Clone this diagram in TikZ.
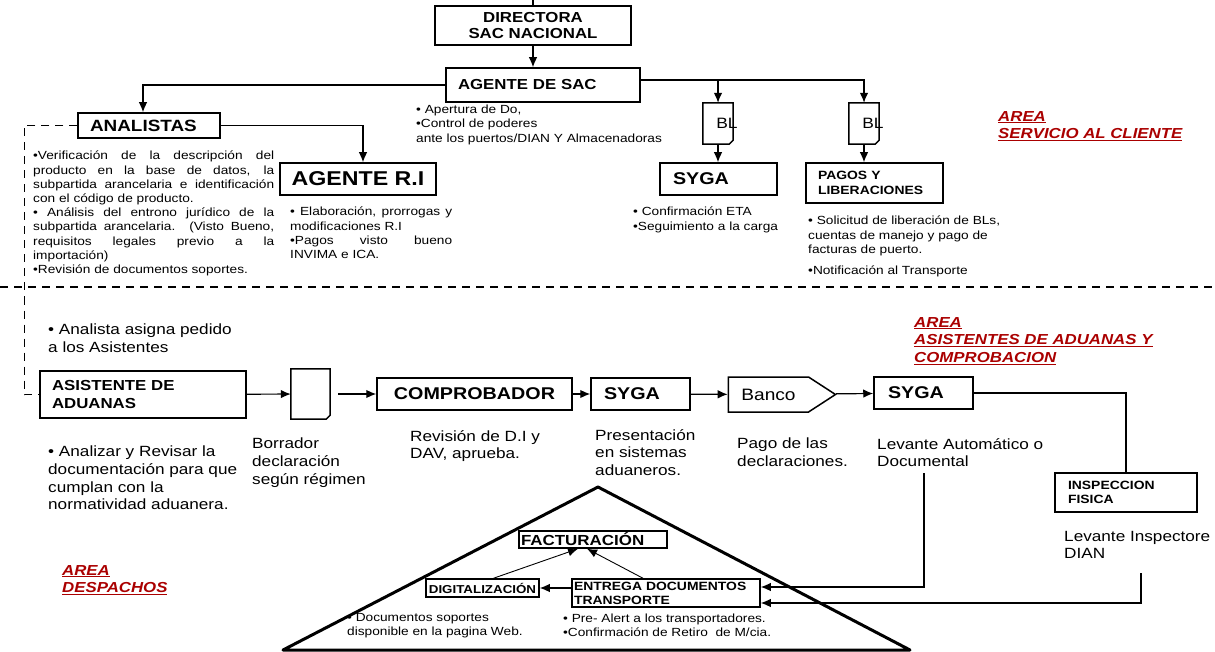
\documentclass[tikz,border=0pt]{standalone}
\usepackage{fontspec}
\setmainfont{Liberation Sans}[FakeStretch=1.16]
\usetikzlibrary{arrows.meta}
\usetikzlibrary{shapes.symbols}
\definecolor{areared}{RGB}{170,0,0}
\setlength{\parindent}{0pt}
\newcommand{\fnota}{\fontsize{11.8}{14.2}\selectfont}
\newcommand{\fdesc}{\fontsize{14.8}{17.6}\selectfont}
\newcommand{\farea}{\fontsize{14.5}{17.5}\selectfont\bfseries\itshape}
\newcommand{\bsz}[2]{\fontsize{#1}{#2}\selectfont\bfseries}
\tikzset{box/.style = {draw, line width=1.5pt, inner sep=0pt},
         conn/.style = {line width=1.2pt},
         note/.style = {anchor=north west, inner sep=0pt, font=\fnota, align=left},
         desc/.style = {anchor=north west, inner sep=0pt, font=\fdesc, align=left},
         area/.style = {anchor=north west, inner sep=0pt, font=\farea, text=areared, align=left},
         docnode/.style = {minimum width=30pt, minimum height=41pt, inner sep=0pt},
         sepline/.style = {line width=1.2pt, dash pattern=on 8pt off 6pt}}

\begin{document}
\begin{tikzpicture}[x=1pt, y=-1pt, >={Latex[length=10pt,width=8.5pt]}]
  \useasboundingbox (0,0) rectangle (1215,652);

  % area servicio al cliente
  \node[box, minimum width=196pt, minimum height=39pt, align=center, font=\bsz{14.5}{16}] (directora) at (533,25.5) {DIRECTORA\\SAC NACIONAL};
  \node[box, text width=170pt, inner xsep=12pt, minimum height=34pt, font=\bsz{14.5}{16}] (agentesac) at (543,85) {AGENTE DE SAC};
  \node[box, text width=118pt, inner xsep=12pt, minimum height=25pt, font=\bsz{16.3}{18}] (analistas) at (149,125.5) {ANALISTAS};
  \node[box, minimum width=156pt, minimum height=32pt, font=\bsz{20}{22}] (agenteri) at (358,179) {AGENTE R.I};
  \node[docnode, label={[xshift=9pt, font=\fontsize{15}{16}\selectfont]center:BL}] (bl1) at (718,123.5) {};
  \node[docnode, label={[xshift=9pt, font=\fontsize{15}{16}\selectfont]center:BL}] (bl2) at (864,123.5) {};
  \node[box, text width=91pt, inner xsep=13pt, minimum height=32pt, font=\bsz{17}{19}] (syga) at (718.5,179) {SYGA};
  \node[box, text width=113pt, inner xsep=12pt, minimum height=40pt, font=\bsz{12}{15}] (pagos) at (874.5,183) {PAGOS Y\\LIBERACIONES};

  \node[note, text width=241pt, align=justify] (analistastxt) at (33,151) {•Verificación de la descripción del\linebreak producto en la base de datos, la\linebreak subpartida arancelaria e identificación\linebreak con el código de producto.\\ • Análisis del entrono jurídico de la\linebreak subpartida arancelaria. (Visto Bueno,\linebreak requisitos legales previo a la\linebreak importación)\\ •Revisión de documentos soportes.};
  \node[note, text width=162pt, align=justify] (agenteritxt) at (290,207) {• Elaboración, prorrogas y\linebreak modificaciones R.I\\ •Pagos visto bueno\linebreak INVIMA e ICA.};
  \node[note] (agentesactxt) at (416,105) {• Apertura de Do,\\•Control de poderes\\ante los puertos/DIAN Y Almacenadoras};
  \node[note] (sygatxt) at (633,207) {• Confirmación ETA\\•Seguimiento a la carga};
  \node[note] (pagostxt) at (808,216) {• Solicitud de liberación de BLs,\\cuentas de manejo y pago de\\facturas de puerto.\\[7pt]•Notificación al Transporte};
  \node[area] (areasac) at (998,111) {\underline{AREA}\\\underline{SERVICIO AL CLIENTE}};

  \coordinate (arriba) at (533,0);
  \draw[conn] (directora.north) -- (arriba);
  \draw[conn,->] (directora.south) -- (directora.south |- agentesac.north);
  \draw[conn,->] (agentesac.west) -| ([xshift=-6pt]analistas.north);
  \coordinate (sacr) at ([yshift=5pt]agentesac.east);
  \draw[conn,->] (sacr) -| (bl2.north);
  \draw[conn,->] (sacr -| bl1.north) -- (bl1.north);
  \draw[conn,->] (bl1.south) -- (bl1.south |- syga.north);
  \draw[conn,->] (bl2.south) -- (bl2.south |- pagos.north);
  \draw[conn,->] (analistas.east) -| ([xshift=5pt]agenteri.north);

  \draw[sepline] (0,287) -- (1215,287);

  % area asistentes de aduanas y comprobacion
  \node[box, text width=182pt, inner xsep=12pt, minimum height=47pt, font=\bsz{14.5}{18}] (asistente) at (143,394.5) {ASISTENTE DE\\ADUANAS};
  \node[docnode, minimum width=39pt, minimum height=50pt] (borrador) at (310.5,394) {};
  \node[box, minimum width=195pt, minimum height=32pt, font=\bsz{17}{19}] (comprobador) at (474.5,394) {COMPROBADOR};
  \node[box, text width=73pt, inner xsep=13pt, minimum height=32pt, font=\bsz{17}{19}] (sygapres) at (640.5,394) {SYGA};
  \node[draw, line width=1.5pt, shape=signal, signal to=east, signal pointer angle=66, minimum width=107pt, minimum height=35pt, inner sep=0pt, font=\fontsize{16.5}{18}\selectfont] (banco) at (768.5,394.5) {Banco};
  \node[box, text width=71pt, inner xsep=14pt, minimum height=32pt, font=\bsz{17}{19}] (sygalev) at (923.5,393) {SYGA};
  \node[box, text width=116pt, inner xsep=13pt, minimum height=39pt, font=\bsz{12}{14}] (inspeccion) at (1126,492.5) {INSPECCION\\FISICA};

  \foreach \d in {bl1,bl2,borrador}
    \draw[line width=1.5pt] (\d.north west) -- (\d.north east) -- ([yshift=4pt]\d.south east) -- ([xshift=-4pt]\d.south east) -- (\d.south west) -- cycle;

  \node[desc] (asignatxt) at (48,324) {• Analista asigna pedido\\a los Asistentes};
  \node[desc] (analizartxt) at (48,446) {• Analizar y Revisar la\\documentación para que\\cumplan con la\\normatividad aduanera.};
  \node[desc, font=\fontsize{14.8}{18}\selectfont] (borradortxt) at (252,438) {Borrador\\declaración\\según régimen};
  \node[desc] (revisiontxt) at (410,430) {Revisión de D.I y\\DAV, aprueba.};
  \node[desc] (presentaciontxt) at (595,429) {Presentación\\en sistemas\\aduaneros.};
  \node[desc] (pagotxt) at (737,438) {Pago de las\\declaraciones.};
  \node[desc] (levautotxt) at (877,438) {Levante Automático o\\Documental};
  \node[desc] (levinsptxt) at (1064,531) {Levante Inspectore\\DIAN};
  \node[area] (areaasis) at (914,317) {\underline{AREA}\\\underline{ASISTENTES DE ADUANAS Y}\\\underline{COMPROBACION}};

  \draw[sepline] (analistas.west) -| ([xshift=-15pt]asistente.west) -- (asistente.west);
  \draw[conn,->] (asistente) -- (borrador);
  \draw[conn,->, shorten <=8pt] (borrador) -- (comprobador);
  \draw[conn,->] (comprobador) -- (sygapres);
  \draw[conn,->] (sygapres) -- (banco);
  \draw[conn,->] (banco) -- (sygalev);
  \draw[conn] (sygalev.east) -| (inspeccion.north);

  % area despachos
  \node[area] (areadesp) at (62,565) {\underline{AREA}\\\underline{DESPACHOS}};
  \draw[line width=3pt, line join=round] (283,650) -- (598,487) -- (910,650) -- cycle;
  \node[box, text width=144pt, inner xsep=2pt, minimum height=17pt, font=\bsz{14.6}{16}] (facturacion) at (593,539.5) {FACTURACIÓN};
  \node[box, minimum width=113pt, minimum height=18pt, font=\bsz{11.5}{13}] (digitalizacion) at (482.5,588) {DIGITALIZACIÓN};
  \node[box, text width=184pt, inner xsep=2pt, minimum height=28pt, font=\bsz{12}{14}] (entrega) at (666,593) {ENTREGA DOCUMENTOS\\TRANSPORTE};
  \node[note] (digitaltxt) at (347,613) {• Documentos soportes\\disponible en la pagina Web.};
  \node[note] (entregatxt) at (563,614) {• Pre- Alert a los transportadores.\\•Confirmación de Retiro \ de M/cia.};

  \coordinate (levaut) at (924,473);
  \coordinate (levins) at (1141,573);
  \draw[conn,->] (levaut) |- ([yshift=6pt]entrega.east);
  \draw[conn,->] (levins) |- ([yshift=-10pt]entrega.east);
  \draw[conn,->] (entrega.west |- digitalizacion.east) -- (digitalizacion.east);
  \draw[line width=0.9pt,->] ([xshift=11pt]digitalizacion.north) -- ([xshift=-15pt]facturacion.south);
  \draw[line width=0.9pt,->] ([xshift=-23pt]entrega.north) -- ([xshift=-6pt]facturacion.south);
\end{tikzpicture}
\end{document}
